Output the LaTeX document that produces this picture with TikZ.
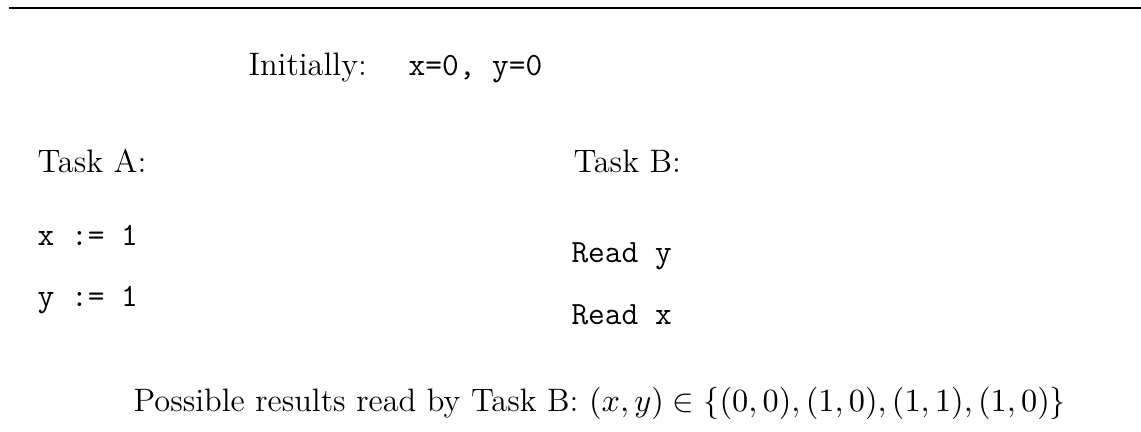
\documentclass[tikz,border=0pt]{standalone}
\usepackage{tikz}
\usepackage{amsmath}

\begin{document}
\begin{tikzpicture}[
  lbl/.style={anchor=base west,inner sep=0pt,font=\fontsize{11}{13}\selectfont},
  code/.style={lbl,font=\fontsize{11}{13}\selectfont\ttfamily}]
  \useasboundingbox (0,0) rectangle (13.59,-5.145);

  % Rule on top
  \coordinate (ruleL) at (0.107,-0.095);
  \coordinate (ruleR) at (13.59,-0.095);
  \draw[line width=0.45pt] (ruleL) -- (ruleR);

  % Initial state
  \node[lbl] (init) at (2.954,-0.905) {Initially:};
  \node[code] (initval) at (4.86,-0.905) {x=0, y=0};

  % Task A
  \node[lbl] (taskA) at (0.441,-2.06) {Task A:};
  \node[code] (wx) at (0.441,-2.93) {x := 1};
  \node[code] (wy) at (0.441,-3.645) {y := 1};

  % Task B
  \node[lbl] (taskB) at (6.824,-2.06) {Task B:};
  \node[code] (ry) at (6.80,-3.132) {Read y};
  \node[code] (rx) at (6.80,-3.87) {Read x};

  % Outcomes
  \node[lbl] (result) at (1.584,-4.907)
    {Possible results read by Task B: $(x,y)\in\{(0,0),(1,0),(1,1),(1,0)\}$};
\end{tikzpicture}
\end{document}
